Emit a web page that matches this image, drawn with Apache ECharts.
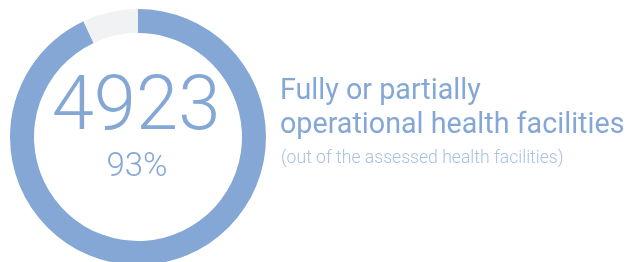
<!DOCTYPE html>
<html><head><meta charset="utf-8">
<script src="https://cdn.jsdelivr.net/npm/echarts@6/dist/echarts.min.js"></script>
<style>html,body{margin:0;padding:0;background:#fff}#c{width:629px;height:262px}</style>
</head><body><div id="c"></div>
<script>
const categories = ["Operational", "Not operational"];
const values = [4923, 371];
const centerValue = "4923";
const centerPct = "93%";
const titleLines = ["Fully or partially", "operational health facilities"];
const subtitle = "(out of the assessed health facilities)";

const chart = echarts.init(document.getElementById('c'), null, {renderer: 'canvas'});
chart.setOption({
  animation: false,
  series: [{
    type: 'pie',
    center: [138, 137],
    radius: [104, 128],
    startAngle: 90,
    clockwise: true,
    silent: true,
    label: {show: false},
    labelLine: {show: false},
    data: categories.map((c, i) => ({name: c, value: values[i],
      itemStyle: {color: i === 0 ? '#84a7d6' : '#f0f2f4'}}))
  }],
  graphic: [
    {type: 'text', style: {text: centerValue, x: 136, y: 148, align: 'center', verticalAlign: 'bottom',
      font: '300 76px Roboto', fill: '#84a7d6'}},
    {type: 'text', style: {text: centerPct, x: 137, y: 184, align: 'center', verticalAlign: 'bottom',
      font: '300 33px Roboto', fill: '#84a7d6'}},
    {type: 'text', style: {text: titleLines[0], x: 280, y: 106, verticalAlign: 'bottom',
      font: '400 28.7px Roboto', fill: '#84a7d6'}},
    {type: 'text', style: {text: titleLines[1], x: 280, y: 140, verticalAlign: 'bottom',
      font: '400 28.7px Roboto', fill: '#84a7d6'}},
    {type: 'text', style: {text: subtitle, x: 281, y: 168, verticalAlign: 'bottom',
      font: '300 17.6px Roboto', fill: '#a9c1e3'}}
  ]
});
</script></body></html>
